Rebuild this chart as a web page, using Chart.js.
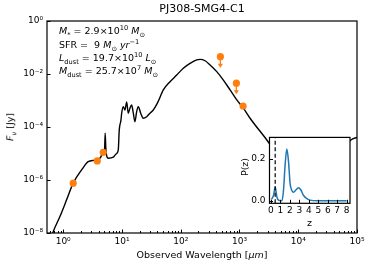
<!DOCTYPE html>
<html><head><meta charset="utf-8">
<script src="https://cdn.jsdelivr.net/npm/chart.js@4/dist/chart.umd.min.js"></script>
<style>
html,body{margin:0;padding:0;background:#fff;}
#wrap{position:relative;width:373px;height:269px;overflow:hidden;font-family:"DejaVu Sans",sans-serif;color:#000;}
canvas{position:absolute;}
#main{left:0;top:0;}
#inset{left:236px;top:128px;}
.t{position:absolute;white-space:nowrap;font-size:9.5px;line-height:1;}
.ann{left:59px;}
sub,sup{font-size:70%;line-height:0;}
</style></head>
<body>
<div id="wrap">
<canvas id="main" width="373" height="269"></canvas>
<canvas id="inset" width="120" height="104"></canvas>
<div class="t ann" style="top:26px"><i>M</i><sub>*</sub> = 2.9×10<sup>10</sup> <i>M</i><sub>⊙</sub></div>
<div class="t ann" style="top:39.5px">SFR = &nbsp;9 <i>M</i><sub>⊙</sub> <i>yr</i><sup>−1</sup></div>
<div class="t ann" style="top:52.5px"><i>L</i><sub>dust</sub> = 19.7×10<sup>10</sup> <i>L</i><sub>⊙</sub></div>
<div class="t ann" style="top:66px"><i>M</i><sub>dust</sub> = 25.7×10<sup>7</sup> <i>M</i><sub>⊙</sub></div>
<div class="t" style="left:202px;top:250px;transform:translateX(-50%)">Observed Wavelength [<i>μm</i>]</div>
<div class="t" style="left:10px;top:127px;transform:translate(-50%,-50%) rotate(-90deg)"><i>F</i><sub><i>ν</i></sub> [Jy]</div>
<div class="t" style="left:245px;top:167px;transform:translate(-50%,-50%) rotate(-90deg)">P(z)</div>
<div class="t" style="left:309.5px;top:223px;transform:translate(-50%,-50%)">z</div>
</div>
<script>
// ---- SED model (observed wavelength in micron, flux density in Jy) ----
const sedWave = [0.641,0.676,0.879,1.143,1.479,2.056,2.667,3.467,4.217,4.797,5.035,5.176,5.333,5.848,7.112,7.907,8.650,8.995,9.616,9.886,10.52,11.25,12.02,12.79,13.68,14.62,15.60,16.63,17.78,18.97,20.84,23.07,26.36,29.99,34.12,40.27,50.58,65.77,85.51,110.7,144.2,187.5,213.3,259.4,315.5,410.2,532.1,691.8,899.5,1164,1514,2917,5012,10000,19950,39810,78700,100700];
const sedFlux = [7.76e-9,1.12e-8,4.17e-8,1.78e-7,7.59e-7,2.40e-6,4.90e-6,5.62e-6,6.61e-6,1.02e-5,9.55e-6,5.89e-5,1.35e-5,6.61e-6,7.24e-6,9.55e-6,1.35e-5,7.76e-5,1.82e-4,3.31e-4,5.89e-4,4.37e-4,8.91e-4,3.31e-4,5.13e-4,6.76e-4,3.31e-4,1.58e-4,3.80e-4,5.89e-4,3.31e-4,2.14e-4,2.45e-4,3.31e-4,4.37e-4,8.13e-4,2.51e-3,5.13e-3,9.12e-3,0.0166,0.0251,0.0339,0.0355,0.0316,0.0219,0.0123,5.89e-3,2.51e-3,1.05e-3,5.13e-4,2.14e-4,3.24e-5,6.31e-6,1.26e-6,1.0e-6,5.01e-6,3.24e-5,4.07e-5];
// ---- photometry ----
const detWave = [1.48,3.80,4.80,1151];
const detFlux = [7.6e-7,5.25e-6,1.11e-5,6.2e-4];
const limWave = [473,885];
const limFlux = [0.045,0.0045];
// ---- axis ticks ----
const xTickValues = [1,10,100,1000,10000,100000];
const xTickLabels = ['10⁰','10¹','10²','10³','10⁴','10⁵'];
const xMinorMant = [2,3,4,5,6,7,8,9];
const xMinorDecades = [0.1,1,10,100,1000,10000];
const yTickValues = [1e-8,1e-6,1e-4,1e-2,1];
const yTickLabels = ['10⁻⁸','10⁻⁶','10⁻⁴','10⁻²','10⁰'];
// ---- inset P(z) ----
const zGrid = [0.05,0.28,0.45,0.63,0.8,1.16,1.33,1.5,1.68,1.85,2.03,2.2,2.38,2.66,2.9,3.15,3.43,3.8,4.1,5,6,7,8];
const pz    = [0.006,0.026,0.065,0.018,0.003,0.0,0.05,0.17,0.245,0.19,0.08,0.05,0.04,0.052,0.062,0.052,0.026,0.01,0.003,0,0,0,0];
const zMark = 0.45;
const zTickValues = [0,1,2,3,4,5,6,7,8];
const pTickValues = [0,0.2];
const pTickLabels = ['0.0','0.2'];

const FONT = "'DejaVu Sans'";
const ORANGE = '#ff7f0e', BLUE = '#1f77b4';
Chart.defaults.font.family = FONT;
Chart.defaults.color = '#000';

function px(v){ return Math.round(v)+0.5; }

const mainDeco = {
  id:'mainDeco',
  beforeDatasetsDraw(chart){
    const ctx=chart.ctx, xs=chart.scales.x, ys=chart.scales.y;
    ctx.save(); ctx.strokeStyle=ORANGE; ctx.fillStyle=ORANGE; ctx.lineWidth=1.3;
    limWave.forEach((w,i)=>{
      const x=xs.getPixelForValue(w), y=ys.getPixelForValue(limFlux[i]);
      ctx.beginPath(); ctx.moveTo(x,y); ctx.lineTo(x,y+8); ctx.stroke();
      ctx.beginPath(); ctx.moveTo(x-2.6,y+7); ctx.lineTo(x+2.6,y+7); ctx.lineTo(x,y+11); ctx.closePath(); ctx.fill();
    });
    ctx.restore();
  },
  afterDatasetsDraw(chart){
    const ctx=chart.ctx, a=chart.chartArea, xs=chart.scales.x, ys=chart.scales.y;
    ctx.save(); ctx.strokeStyle='#000'; ctx.lineWidth=1;
    ctx.beginPath();
    xTickValues.forEach(v=>{ const x=px(xs.getPixelForValue(v)); ctx.moveTo(x,a.bottom); ctx.lineTo(x,a.bottom-3.5); });
    xMinorDecades.forEach(d=>xMinorMant.forEach(m=>{ const v=m*d; if(v<xs.min||v>xs.max) return; const x=px(xs.getPixelForValue(v)); ctx.moveTo(x,a.bottom); ctx.lineTo(x,a.bottom-2); }));
    yTickValues.forEach(v=>{ const y=px(ys.getPixelForValue(v)); ctx.moveTo(a.left,y); ctx.lineTo(a.left+3.5,y); });
    ctx.stroke();
    ctx.lineWidth=1.2;
    ctx.strokeRect(a.left,a.top,a.right-a.left,a.bottom-a.top);
    ctx.restore();
  }
};

const mainChart = new Chart(document.getElementById('main'), {
  type:'line',
  data:{ datasets:[
    { data: detWave.map((w,i)=>({x:w,y:detFlux[i]})), showLine:false, pointRadius:3.6, pointBackgroundColor:ORANGE, pointBorderWidth:0, order:1 },
    { data: limWave.map((w,i)=>({x:w,y:limFlux[i]})), showLine:false, pointRadius:3.6, pointBackgroundColor:ORANGE, pointBorderWidth:0, order:1 },
    { data: sedWave.map((w,i)=>({x:w,y:sedFlux[i]})), borderColor:'#000', borderWidth:1.4, pointRadius:0, cubicInterpolationMode:'monotone', order:2 }
  ]},
  options:{
    responsive:false, animation:false, parsing:true,
    layout:{ padding:{left:0,top:0,right:0,bottom:0} },
    plugins:{ legend:{display:false}, tooltip:{enabled:false},
      title:{ display:true, text:'PJ308-SMG4-C1', fullSize:false, color:'#000', font:{size:11, family:FONT, weight:'normal'}, padding:{top:3,bottom:5} } },
    scales:{
      x:{ type:'logarithmic', min:0.53, max:100000,
        afterBuildTicks:s=>{ s.ticks = xTickValues.map(v=>({value:v})); },
        ticks:{ autoSkip:false, maxRotation:0, padding:3, font:{size:9}, color:'#000',
          callback:(v)=>{ const i=xTickValues.indexOf(v); return i>=0?xTickLabels[i]:''; } },
        grid:{display:false, drawTicks:false}, border:{display:false} },
      y:{ type:'logarithmic', min:1e-8, max:1,
        afterBuildTicks:s=>{ s.ticks = yTickValues.map(v=>({value:v})); },
        ticks:{ autoSkip:false, padding:4, font:{size:9}, color:'#000',
          callback:(v)=>{ const i=yTickValues.findIndex(t=>Math.abs(Math.log10(t)-Math.log10(v))<1e-6); return i>=0?yTickLabels[i]:''; } },
        grid:{display:false, drawTicks:false}, border:{display:false} }
    }
  },
  plugins:[mainDeco]
});

const insetDeco = {
  id:'insetDeco',
  beforeDraw(chart){
    const ctx=chart.ctx, a=chart.chartArea;
    ctx.save(); ctx.fillStyle='#fff'; ctx.fillRect(a.left,a.top,a.right-a.left,a.bottom-a.top); ctx.restore();
  },
  afterDatasetsDraw(chart){
    const ctx=chart.ctx, a=chart.chartArea, xs=chart.scales.x, ys=chart.scales.y;
    ctx.save(); ctx.strokeStyle='#000'; ctx.lineWidth=1;
    ctx.beginPath();
    zTickValues.forEach(v=>{ const x=px(xs.getPixelForValue(v)); ctx.moveTo(x,a.bottom); ctx.lineTo(x,a.bottom-3.5); });
    pTickValues.forEach(v=>{ const y=px(ys.getPixelForValue(v)); ctx.moveTo(a.left,y); ctx.lineTo(a.left+3.5,y); });
    ctx.stroke();
    ctx.lineWidth=1.2;
    ctx.strokeRect(a.left,a.top,a.right-a.left,a.bottom-a.top);
    ctx.restore();
  }
};

const insetChart = new Chart(document.getElementById('inset'), {
  type:'line',
  data:{ datasets:[
    { data: zGrid.map((z,i)=>({x:z,y:pz[i]})), borderColor:BLUE, borderWidth:1.5, pointRadius:0, cubicInterpolationMode:'monotone', order:2 },
    { data: [{x:zMark,y:-0.012},{x:zMark,y:0.30}], borderColor:'#000', borderWidth:1.2, borderDash:[4,2.5], pointRadius:0, order:1 }
  ]},
  options:{
    responsive:false, animation:false,
    layout:{ padding:{left:0,top:0,right:0,bottom:0} },
    plugins:{ legend:{display:false}, tooltip:{enabled:false}, title:{display:false} },
    scales:{
      x:{ type:'linear', min:-0.15, max:8.35,
        afterBuildTicks:s=>{ s.ticks = zTickValues.map(v=>({value:v})); },
        ticks:{ autoSkip:false, maxRotation:0, padding:2, font:{size:9}, color:'#000', callback:(v)=>String(v) },
        grid:{display:false, drawTicks:false}, border:{display:false} },
      y:{ type:'linear', min:-0.012, max:0.30,
        afterBuildTicks:s=>{ s.ticks = pTickValues.map(v=>({value:v})); },
        ticks:{ autoSkip:false, padding:4, font:{size:9}, color:'#000',
          callback:(v)=>{ const i=pTickValues.findIndex(t=>Math.abs(t-v)<1e-9); return i>=0?pTickLabels[i]:''; } },
        grid:{display:false, drawTicks:false}, border:{display:false} }
    }
  },
  plugins:[insetDeco]
});

function pin(chart, target){
  for(let k=0;k<3;k++){
    const ca=chart.chartArea, p=chart.options.layout.padding;
    p.left += target.left - ca.left;
    p.top += target.top - ca.top;
    p.right += ca.right - target.right;
    p.bottom += ca.bottom - target.bottom;
    chart.update('none');
  }
}
pin(mainChart, {left:47, top:21, right:357, bottom:233});
pin(insetChart, {left:33.5, top:7, right:114, bottom:75.3});
</script>
</body></html>
